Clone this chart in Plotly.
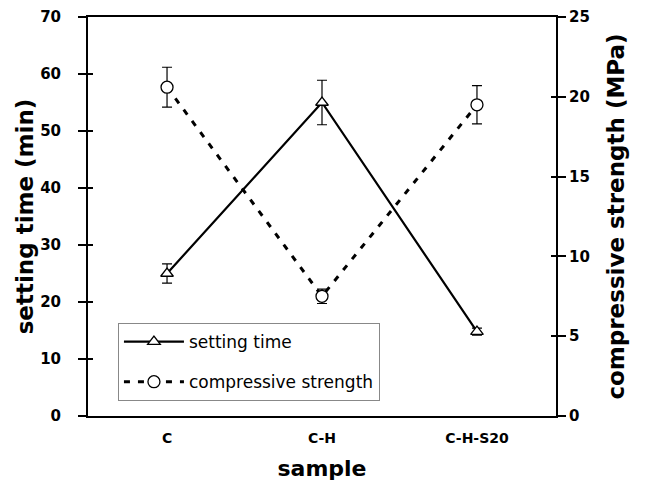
import plotly.graph_objects as go

samples = ["C", "C-H", "C-H-S20"]
setting_time = [25.0, 55.0, 14.8]
setting_err = [1.7, 3.9, 0.6]
strength = [20.6, 7.5, 19.5]
strength_err = [1.25, 0.45, 1.2]
left_ticks = [0, 10, 20, 30, 40, 50, 60, 70]
right_ticks = [0, 5, 10, 15, 20, 25]

BOLD = dict(family="DejaVu Sans", weight="bold", color="black")

fig = go.Figure()
fig.add_trace(go.Scatter(
    x=samples, y=setting_time, name="setting time", yaxis="y",
    mode="lines+markers", legendgroup="a",
    line=dict(color="black", width=2.2),
    marker=dict(symbol="triangle-up", size=11, color="white",
                line=dict(color="black", width=1.3)),
    error_y=dict(type="data", array=setting_err, color="black", thickness=1.2, width=5),
))
fig.add_trace(go.Scatter(
    x=samples, y=strength, name="compressive strength", yaxis="y2",
    mode="lines+markers", legendgroup="b",
    line=dict(color="black", width=3, dash="6px,8px"),
    marker=dict(symbol="circle", size=12, color="white",
                line=dict(color="black", width=1.3)),
    error_y=dict(type="data", array=strength_err, color="black", thickness=1.2, width=5),
))
# helper traces so the crossing-tick overlay axes are drawn
for ax in ("y3", "y4"):
    fig.add_trace(go.Scatter(x=[None], y=[None], yaxis=ax, showlegend=False,
                             hoverinfo="skip", mode="markers"))

fig.update_layout(
    width=646, height=481,
    margin=dict(l=88, r=90, t=17, b=65),
    paper_bgcolor="white", plot_bgcolor="white",
    showlegend=True,
    legend=dict(
        x=0.064, y=0.233, xanchor="left", yanchor="top",
        bordercolor="#888888", borderwidth=1, bgcolor="white",
        font=dict(family="DejaVu Sans", size=17, color="black"),
        itemwidth=60, traceorder="grouped", tracegroupgap=15,
    ),
    xaxis=dict(
        type="category", range=[-0.51, 2.51], automargin=False,
        showline=True, linewidth=2, linecolor="black", mirror=True,
        ticks="", showgrid=False, zeroline=False,
        tickfont=dict(size=14, **BOLD), ticklabelstandoff=8,
        title=dict(text="sample", font=dict(size=22, **BOLD), standoff=24),
    ),
    yaxis=dict(
        range=[0, 70], tickvals=left_ticks, ticks="outside", ticklen=8, tickwidth=2,
        tickcolor="black", showline=True, linewidth=2, linecolor="black",
        showgrid=False, zeroline=False, ticklabelstandoff=14, automargin=False,
        tickfont=dict(size=15, **BOLD),
        title=dict(text="setting time (min)", font=dict(size=23, **BOLD), standoff=0),
    ),
    yaxis2=dict(
        range=[0, 25], tickvals=right_ticks, overlaying="y", side="right",
        ticks="outside", ticklen=8, tickwidth=2, tickcolor="black",
        showline=True, linewidth=2, linecolor="black", automargin=False,
        showgrid=False, zeroline=False,
        tickfont=dict(size=15, **BOLD),
        title=dict(text="compressive strength (MPa)", font=dict(size=23, **BOLD), standoff=19),
    ),
    yaxis3=dict(
        range=[0, 70], tickvals=left_ticks, overlaying="y", side="left",
        ticks="inside", ticklen=5, tickwidth=2, tickcolor="black", automargin=False,
        showticklabels=False, showline=False, showgrid=False, zeroline=False,
    ),
    yaxis4=dict(
        range=[0, 25], tickvals=right_ticks, overlaying="y", side="right",
        ticks="inside", ticklen=5, tickwidth=2, tickcolor="black", automargin=False,
        showticklabels=False, showline=False, showgrid=False, zeroline=False,
    ),
)

fig.write_html("out.html")
